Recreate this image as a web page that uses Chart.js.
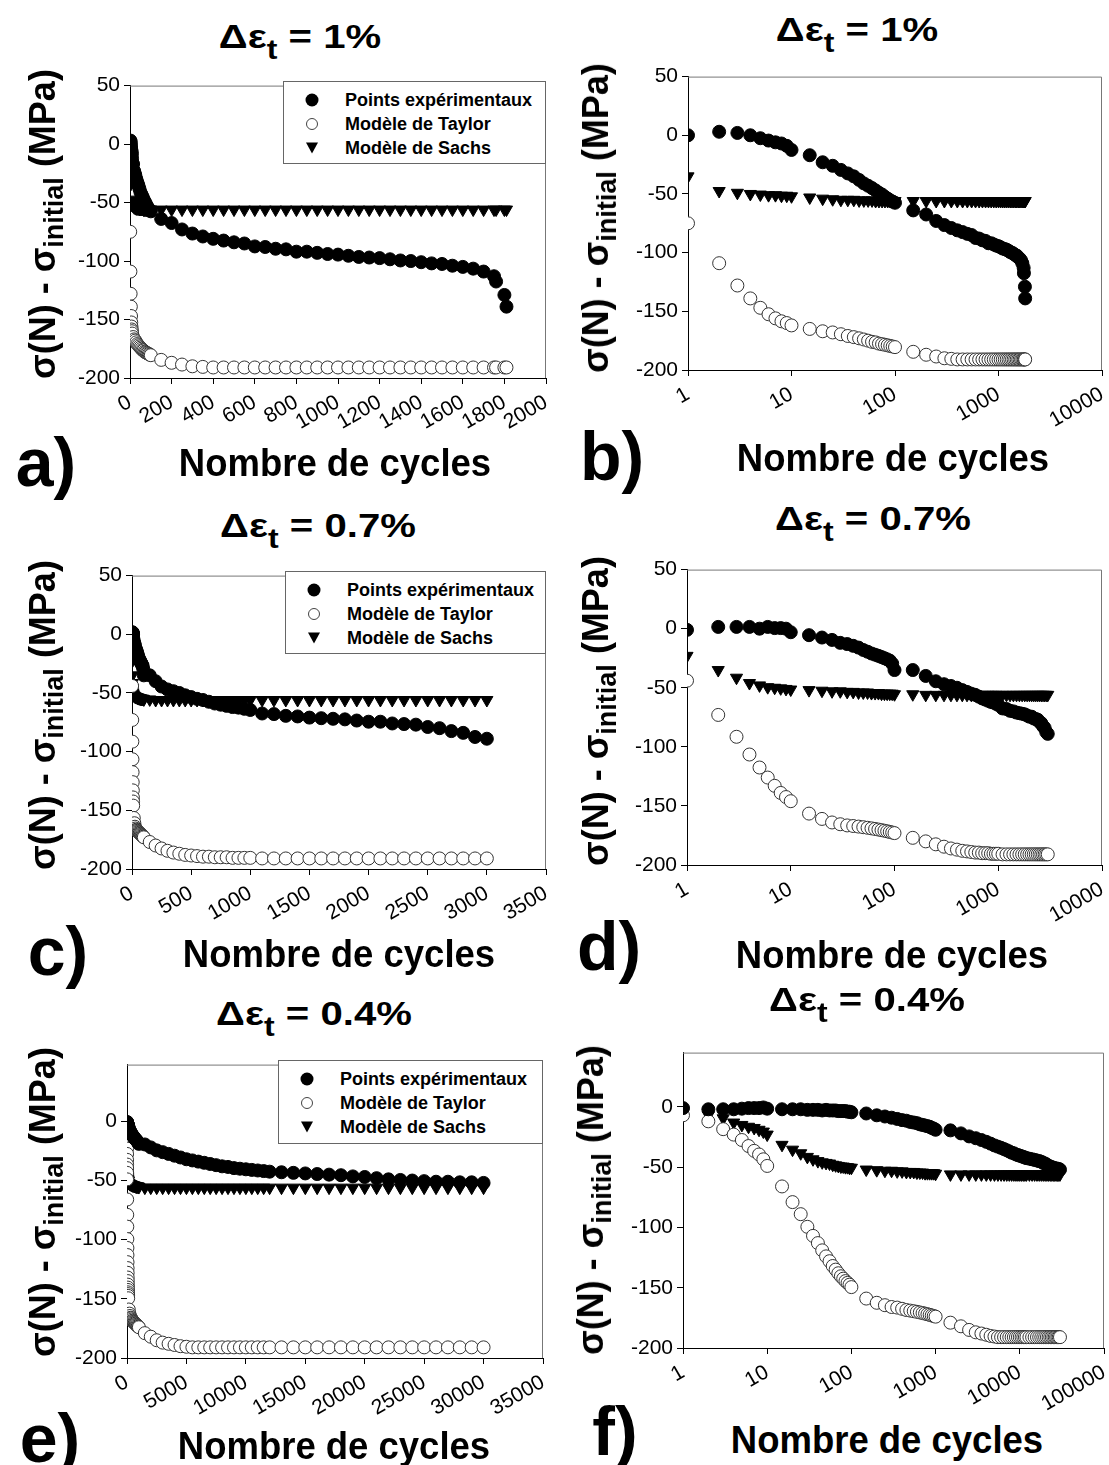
<!DOCTYPE html>
<html>
<head>
<meta charset="utf-8">
<script src="https://cdn.jsdelivr.net/npm/chart.js@4.4.1/dist/chart.umd.min.js"></script>
<style>
html, body { margin: 0; padding: 0; overflow: hidden; background: #fff; }
body { position: relative; width: 1109px; height: 1465px; font-family: "Liberation Sans", Arial, sans-serif; color: #000; }
canvas { position: absolute; }
.txt { position: absolute; white-space: nowrap; font-weight: bold; line-height: 1; }
.title { font-size: 34px; }
.title sub { font-size: 0.8em; vertical-align: -0.4em; line-height: 0; }
.xlab { font-size: 38px; }
.ylab { font-size: 36px; }
.ylab sub { font-size: 0.75em; vertical-align: -0.3em; line-height: 0; }
.letter { font-size: 68px; }
.legend { position: absolute; box-sizing: border-box; border: 1px solid #666; background: #fff; }
.lrow { position: absolute; left: 0; height: 0; }
.mk { position: absolute; left: 28px; top: 0; transform: translate(-50%, -50%); box-sizing: border-box; }
.mk0 { width: 13px; height: 13px; border-radius: 50%; background: #000; }
.mk1 { width: 12px; height: 12px; border-radius: 50%; border: 1px solid #444; background: #fff; }
.mk2 { width: 0; height: 0; border-left: 6px solid transparent; border-right: 6px solid transparent; border-top: 11px solid #000; }
.lt { position: absolute; left: 61px; top: 0; transform: translateY(-50%); font-weight: bold; font-size: 18px; white-space: nowrap; }
</style>
</head>
<body>
<script>
// series names
const seriesNames = ['Points expérimentaux', 'Modèle de Taylor', 'Modèle de Sachs'];

// Δεt = 1%
const cycles1 = [1, 2, 3, 4, 5, 6, 7, 8, 9, 10,
  15, 20, 25, 30, 35, 40, 45, 50, 55, 60, 65, 70, 75, 80, 85, 90, 95, 100,
  150, 200, 250, 300, 350, 400, 450, 500, 550, 600, 650, 700, 750, 800, 850, 900, 950, 1000,
  1050, 1100, 1150, 1200, 1250, 1300, 1350, 1400, 1450, 1500, 1550, 1600, 1650, 1700, 1750,
  1760, 1800, 1810];
const exp1 = [0, 3, 2, 0, -2.5, -4.5, -6, -7, -9, -12.5,
  -17, -23, -26, -29.5, -32.5, -35, -38, -41, -43, -45, -47, -49, -50.5, -52.5, -54, -55.5, -56.5, -57.5,
  -64, -67.5, -73, -76.5, -79, -81, -82.5, -84, -85, -87.5, -88, -89.5, -90, -92, -92, -93, -94, -94.5,
  -95.5, -96.5, -97, -97.5, -98.5, -99.5, -100, -101, -102, -102.5, -104, -105, -106.5, -109, -113,
  -117.5, -129, -139];
const taylor1 = [-75, -109, -128, -139, -147, -152.5, -156, -158.5, -160, -162,
  -165, -167, -168, -169.5, -171, -172, -173, -174, -175, -176, -176.5, -177.5, -178, -178.5, -179, -179.5, -180, -180.5,
  -184.5, -187, -188.5, -190, -190.5, -191, -191, -191, -191, -191, -191, -191, -191, -191, -191, -191, -191, -191,
  -191, -191, -191, -191, -191, -191, -191, -191, -191, -191, -191, -191, -191, -191, -191,
  -191, -191, -191];
const sachs1 = [-35, -47.5, -49, -50, -50.5, -51, -51, -51.5, -51.5, -52,
  -53, -54, -54.5, -55, -55, -55, -55.5, -55.5, -55.5, -55.5, -56, -56, -56, -56, -56, -56, -56, -56,
  -56, -56, -56, -56, -56, -56, -56, -56, -56, -56, -56, -56, -56, -56, -56, -56, -56, -56,
  -56, -56, -56, -56, -56, -56, -56, -56, -56, -56, -56, -56, -56, -56, -56,
  -56, -56, -56];

// Δεt = 0.7%
const cycles2 = [1, 2, 3, 4, 5, 6, 7, 8, 9, 10,
  15, 20, 25, 30, 35, 40, 45, 50, 55, 60, 65, 70, 75, 80, 85, 90, 95, 100,
  150, 200, 250, 300, 350, 400, 450, 500, 550, 600, 650, 700, 750, 800, 850, 900, 950, 1000,
  1100, 1200, 1300, 1400, 1500, 1600, 1700, 1800, 1900, 2000, 2100, 2200, 2300, 2400, 2500, 2600, 2700, 2800, 2900, 3000];
const exp2 = [-1, 1.5, 1.5, 1.5, 0, 1.5, 0.5, 0.5, 0, -3,
  -5.5, -7.5, -9.5, -12, -13, -14.5, -16, -18, -19.5, -21, -22, -23, -24, -25, -26, -27, -29.5, -35,
  -35, -40, -44.5, -47, -48.5, -50, -52, -53.5, -55, -56, -57.5, -59, -60, -61, -62, -62.5, -63.5, -64.5,
  -67.5, -68, -69.5, -70, -71, -71.5, -72, -72.5, -73.5, -74.5, -74.5, -76, -76.5, -77, -79, -80, -82.5, -84, -87.5, -89];
const taylor2 = [-44, -73, -91.5, -106.5, -117.5, -126, -133, -139, -142.5, -146,
  -156.5, -161, -164, -165.5, -166.5, -167, -167.5, -168, -168.5, -169, -169.5, -170, -170.5, -171, -171.5, -172, -172.5, -173,
  -177, -180, -182.5, -184.5, -186, -187, -188, -188.5, -189, -189.5, -189.5, -190, -190, -190, -190.5, -190.5, -190.5, -190.5,
  -191, -191, -191, -191, -191, -191, -191, -191, -191, -191, -191, -191, -191, -191, -191, -191, -191, -191, -191, -191];
const sachs2 = [-23, -35, -41.5, -46, -48, -49.5, -50, -50.5, -51, -51.5,
  -52, -52.5, -53, -53, -53.5, -53.5, -54, -54, -54, -54.5, -54.5, -54.5, -55, -55, -55, -55, -55, -55.5,
  -55.5, -56, -56, -56, -56, -56, -56, -56, -56, -56, -56, -56, -56, -56, -56, -56, -56, -56,
  -56, -56, -56, -56, -56, -56, -56, -56, -56, -56, -56, -56, -56, -56, -56, -56, -56, -56, -56, -56];

// Δεt = 0.4%
const cycles3 = [1, 2, 3, 4, 5, 6, 7, 8, 9, 10,
  15, 20, 25, 30, 35, 40, 45, 50, 55, 60, 65, 70, 75, 80, 85, 90, 95, 100,
  150, 200, 250, 300, 350, 400, 450, 500, 550, 600, 650, 700, 750, 800, 850, 900, 950, 1000,
  1500, 2000, 2500, 3000, 3500, 4000, 4500, 5000, 5500, 6000, 6500, 7000, 7500, 8000, 8500, 9000, 9500, 10000, 10500, 11000, 11500, 12000,
  13000, 14000, 15000, 16000, 17000, 18000, 19000, 20000, 21000, 22000, 23000, 24000, 25000, 26000, 27000, 28000, 29000, 30000];
const exp3 = [-1, -2, -2, -2, -1.5, -1, -1, -1, -0.5, -1.5,
  -2, -2, -2, -2.5, -2.5, -2.5, -3, -2.5, -3, -3, -3, -3.5, -3.5, -3.5, -3.5, -4, -4, -4.5,
  -5.5, -7, -8, -9, -10, -11, -11.5, -12.5, -13, -13.5, -14.5, -15, -15.5, -16, -16.5, -17.5, -18, -19,
  -19.5, -22, -24.5, -26, -27.5, -29, -30.5, -32, -33, -34, -35, -36, -37, -38, -38.5, -39.5, -40, -40.5, -41, -41.5, -42, -42.5,
  -43, -43.5, -44, -44.5, -45, -45.5, -46.5, -47, -48, -49, -49.5, -50, -50.5, -51, -51, -51.5, -51.5, -52];
const taylor3 = [-7, -12, -18.5, -23, -27.5, -32.5, -36.5, -39.5, -43.5, -49,
  -66, -79, -89, -99.5, -107, -113, -119, -124, -128, -132, -135, -138, -140.5, -142.5, -144.5, -146, -147.5, -149.5,
  -159, -162.5, -164.5, -166, -166.5, -167.5, -168.5, -169, -169.5, -170, -170.5, -171, -171.5, -172, -172.5, -173, -173.5, -174,
  -179, -182, -185, -187, -188, -189, -190, -190.5, -191, -191, -191, -191, -191, -191, -191, -191, -191, -191, -191, -191, -191, -191,
  -191, -191, -191, -191, -191, -191, -191, -191, -191, -191, -191, -191, -191, -191, -191, -191, -191, -191];
const sachs3 = [-5, -7, -9.5, -13, -15, -16.5, -17.5, -19, -20.5, -23,
  -31.5, -35.5, -38.5, -41.5, -43.5, -45, -46, -46.5, -47, -48, -48.5, -49, -49.5, -49.5, -50, -50, -50.5, -50.5,
  -52, -52.5, -53, -53, -53.5, -53.5, -54, -54, -54, -54.5, -54.5, -54.5, -55, -55, -55, -55, -55, -55.5,
  -56, -56, -56, -56, -56, -56, -56, -56, -56, -56, -56, -56, -56, -56, -56, -56, -56, -56, -56, -56, -56, -56,
  -56, -56, -56, -56, -56, -56, -56, -56, -56, -56, -56, -56, -56, -56, -56, -56, -56, -56];

// tick labels
const logTicks4 = [1, 10, 100, 1000, 10000];
const logTicks5 = [1, 10, 100, 1000, 10000, 100000];
const yTicksTo50 = [-200, -150, -100, -50, 0, 50];
const yTicksTo0 = [-200, -150, -100, -50, 0];
const titles = ['1%', '1%', '0.7%', '0.7%', '0.4%', '0.4%'];

// panel layout: plot area in page pixels
const panels = [
  { letter: 'a', x0: 130, y0: 81, x1: 546, y1: 378, log: false, xMax: 2000, xStep: 200, yMax: 50, yTicks: yTicksTo50,
    data: [cycles1, exp1, taylor1, sachs1], legend: [283, 81, 546, 164],
    title: [300, 36], xlab: [335, 463], ylab: [43, 224], let: [46, 462] },
  { letter: 'b', x0: 688, y0: 72, x1: 1102, y1: 370, log: true, xMax: 10000, xTicks: logTicks4, yMax: 50, yTicks: yTicksTo50,
    data: [cycles1, exp1, taylor1, sachs1],
    title: [857, 29], xlab: [893, 458], ylab: [596, 218], let: [612, 456] },
  { letter: 'c', x0: 132, y0: 571, x1: 546, y1: 869, log: false, xMax: 3500, xStep: 500, yMax: 50, yTicks: yTicksTo50,
    data: [cycles2, exp2, taylor2, sachs2], legend: [285, 571, 546, 654],
    title: [318, 525], xlab: [339, 954], ylab: [43, 715], let: [58, 951] },
  { letter: 'd', x0: 687, y0: 565, x1: 1102, y1: 865, log: true, xMax: 10000, xTicks: logTicks4, yMax: 50, yTicks: yTicksTo50,
    data: [cycles2, exp2, taylor2, sachs2],
    title: [873, 518], xlab: [892, 955], ylab: [596, 711], let: [609, 946] },
  { letter: 'e', x0: 127, y0: 1060, x1: 543, y1: 1358, log: false, xMax: 35000, xStep: 5000, yMax: 48, yTicks: yTicksTo0,
    data: [cycles3, exp3, taylor3, sachs3], legend: [278, 1060, 543, 1144],
    title: [314, 1013], xlab: [334, 1446], ylab: [43, 1202], let: [50, 1438] },
  { letter: 'f', x0: 683, y0: 1048, x1: 1104, y1: 1348, log: true, xMax: 100000, xTicks: logTicks5, yMax: 45, yTicks: yTicksTo0,
    data: [cycles3, exp3, taylor3, sachs3],
    title: [867, 999], xlab: [887, 1440], ylab: [591, 1200], let: [615, 1431] }
];

const FONT = '"Liberation Sans", Arial, sans-serif';
const AXIS_W = 70, AXIS_H = 70, PAD_T = 12, PAD_R = 24;

// grey frame on top and right of the plot area
const framePlugin = {
  id: 'frame',
  beforeDatasetsDraw(chart) {
    const { ctx, chartArea: a } = chart;
    ctx.save();
    ctx.strokeStyle = '#777';
    ctx.lineWidth = 1;
    ctx.beginPath();
    ctx.moveTo(a.left, a.top + 0.5);
    ctx.lineTo(a.right - 0.5, a.top + 0.5);
    ctx.lineTo(a.right - 0.5, a.bottom);
    ctx.stroke();
    ctx.restore();
  }
};

function addText(html, cx, cy, cls, extra) {
  const d = document.createElement('div');
  d.className = 'txt ' + cls;
  d.innerHTML = html;
  d.style.left = cx + 'px';
  d.style.top = cy + 'px';
  d.style.transform = 'translate(-50%, -50%)' + (extra || '');
  document.body.appendChild(d);
}

function addLegend(b) {
  const box = document.createElement('div');
  box.className = 'legend';
  box.style.left = b[0] + 'px';
  box.style.top = b[1] + 'px';
  box.style.width = (b[2] - b[0]) + 'px';
  box.style.height = (b[3] - b[1]) + 'px';
  seriesNames.forEach((name, i) => {
    const row = document.createElement('div');
    row.className = 'lrow';
    row.style.top = (18 + i * 24) + 'px';
    row.innerHTML = '<span class="mk mk' + i + '"></span><span class="lt">' + name + '</span>';
    box.appendChild(row);
  });
  document.body.appendChild(box);
}

function makeChart(p) {
  const [N, exp, taylor, sachs] = p.data;
  const cv = document.createElement('canvas');
  const w = p.x1 - p.x0 + AXIS_W + PAD_R;
  const h = p.y1 - p.y0 + PAD_T + AXIS_H;
  cv.width = w;
  cv.height = h;
  cv.style.width = w + 'px';
  cv.style.height = h + 'px';
  cv.style.left = (p.x0 - AXIS_W) + 'px';
  cv.style.top = (p.y0 - PAD_T) + 'px';
  document.body.appendChild(cv);

  const pts = ys => N.map((n, i) => ({ x: n, y: ys[i] }));
  const tickFont = { family: FONT, size: 21 };

  new Chart(cv, {
    type: 'scatter',
    data: {
      datasets: [
        { label: seriesNames[0], data: pts(exp), pointStyle: 'circle', pointRadius: 6.5,
          backgroundColor: '#000', borderColor: '#000', borderWidth: 1 },
        { label: seriesNames[1], data: pts(taylor), pointStyle: 'circle', pointRadius: 6.5,
          backgroundColor: '#fff', borderColor: '#333', borderWidth: 1 },
        { label: seriesNames[2], data: pts(sachs), pointStyle: 'triangle', pointRotation: 180, pointRadius: 7,
          backgroundColor: '#000', borderColor: '#000', borderWidth: 1 }
      ]
    },
    options: {
      responsive: false,
      animation: false,
      devicePixelRatio: 1,
      layout: { padding: { top: PAD_T, right: PAD_R, left: 0, bottom: 0 } },
      plugins: { legend: { display: false }, tooltip: { enabled: false } },
      scales: {
        x: {
          type: p.log ? 'logarithmic' : 'linear',
          min: p.log ? 1 : 0,
          max: p.xMax,
          border: { display: true, color: '#000', width: 1 },
          grid: { display: true, drawOnChartArea: false, drawTicks: true, tickLength: 6, color: '#000' },
          ticks: {
            color: '#000', font: tickFont, autoSkip: false, minRotation: 30, maxRotation: 30, padding: 6,
            stepSize: p.xStep,
            callback: v => String(v)
          },
          afterBuildTicks: p.log ? (s => { s.ticks = p.xTicks.map(v => ({ value: v })); }) : undefined,
          afterFit: s => { s.height = AXIS_H; }
        },
        y: {
          min: -200,
          max: p.yMax,
          border: { display: true, color: '#000', width: 1 },
          grid: { display: true, drawOnChartArea: false, drawTicks: true, tickLength: 6, color: '#000' },
          ticks: { color: '#000', font: tickFont, padding: 4, callback: v => String(v) },
          afterBuildTicks: s => { s.ticks = p.yTicks.map(v => ({ value: v })); },
          afterFit: s => { s.width = AXIS_W; }
        }
      }
    },
    plugins: [framePlugin]
  });
}

panels.forEach((p, i) => {
  makeChart(p);
  if (p.legend) addLegend(p.legend);
  addText('Δε<sub>t</sub> = ' + titles[i], p.title[0], p.title[1], 'title', ' scaleX(1.18)');
  addText('Nombre de cycles', p.xlab[0], p.xlab[1], 'xlab', ' scaleX(0.96)');
  addText('σ(N) - σ<sub>initial</sub> (MPa)', p.ylab[0], p.ylab[1], 'ylab', ' rotate(-90deg)');
  addText(p.letter + ')', p.let[0], p.let[1], 'letter');
});
</script>
</body>
</html>
